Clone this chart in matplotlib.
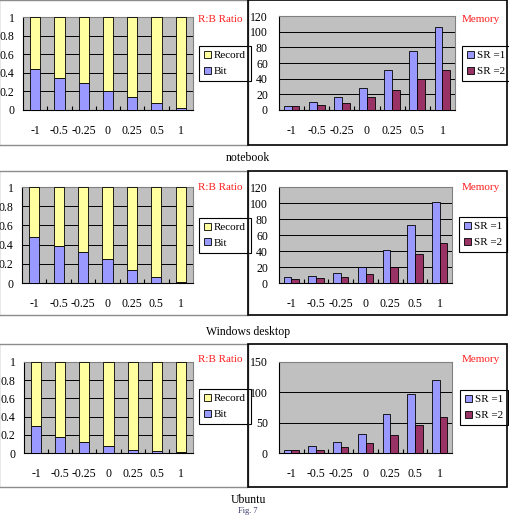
import matplotlib
matplotlib.use("Agg")
import matplotlib.pyplot as plt
from matplotlib.patches import Rectangle
import numpy as np

plt.rcParams['font.family'] = ['Liberation Serif', 'DejaVu Serif']

categories = ["-1", "-0.5", "-0.25", "0", "0.25", "0.5", "1"]

# R:B ratio – Bit share (Record = 1 - Bit)
bit_notebook = [0.436, 0.346, 0.286, 0.207, 0.136, 0.075, 0.02]
bit_windows = [0.477, 0.382, 0.323, 0.246, 0.14, 0.06, 0.007]
bit_ubuntu = [0.293, 0.18, 0.117, 0.073, 0.037, 0.026, 0.007]

# Memory
sr1_notebook = [5.5, 10, 16, 28, 51, 75, 105.5]
sr2_notebook = [4.7, 7, 9, 16, 25, 39, 51]
sr1_windows = [7, 9, 12, 20, 41, 73, 101]
sr2_windows = [4.6, 6, 8, 11, 20, 36.5, 49.5]
sr1_ubuntu = [5.5, 11, 18, 32, 64, 98, 121]
sr2_ubuntu = [5, 5.5, 10, 16, 30, 46, 59]

row_labels = ["notebook", "Windows desktop", "Ubuntu"]
mem_ylims = [(120, [0, 20, 40, 60, 80, 100, 120]),
             (120, [0, 20, 40, 60, 80, 100, 120]),
             (150, [0, 50, 100, 150])]

W, H = 510, 515
fig = plt.figure(figsize=(W / 100, H / 100), dpi=100)
fig.patch.set_facecolor('white')

def ax_at(x0, y0, x1, y1):
    return fig.add_axes([x0 / W, 1 - y1 / H, (x1 - x0) / W, (y1 - y0) / H])

def rect(x0, y0, x1, y1, color, lw):
    fig.patches.append(Rectangle((x0 / W, 1 - y1 / H), (x1 - x0) / W, (y1 - y0) / H,
                                 transform=fig.transFigure, fill=False,
                                 edgecolor=color, linewidth=lw, zorder=10))

BG = '#c0c0c0'
BLUE = '#9999ff'
YEL = '#ffffa0'
PLUM = '#993366'
FS = 8.5
LFS = 8

def style(ax, ylim, yticks, ylabels, ypad):
    ax.set_facecolor(BG)
    ax.set_ylim(0, ylim)
    ax.set_yticks(yticks)
    ax.set_yticklabels(ylabels, fontsize=FS)
    ax.set_xlim(-0.5, 6.5)
    ax.set_xticks(range(7))
    ax.set_xticklabels(categories, fontsize=FS)
    ax.tick_params(axis='x', which='major', length=0, pad=11)
    ax.tick_params(axis='y', which='major', length=0, pad=ypad)
    ax.set_xticks(np.arange(0.5, 6.5, 1), minor=True)
    ax.tick_params(axis='x', which='minor', direction='in', length=3, width=0.8)
    ax.yaxis.grid(True, color='black', linewidth=0.7)
    ax.set_axisbelow(True)
    for s in ['top', 'right']:
        ax.spines[s].set_color('#808080')
    for s in ['left', 'bottom']:
        ax.spines[s].set_color('black')
    for s in ax.spines.values():
        s.set_linewidth(0.8)

def legend(handles, labels, box):
    lx0, ly0, lx1, ly1 = box
    leg = fig.legend(handles, labels, loc='center left',
                     bbox_to_anchor=(lx0 / W, 1 - (ly0 + ly1) / 2 / H),
                     fontsize=LFS, frameon=True, fancybox=False,
                     edgecolor='black', framealpha=1, borderpad=0.45, handlelength=0.6,
                     handleheight=0.6, handletextpad=0.3, labelspacing=0.55, borderaxespad=0)
    leg.get_frame().set_linewidth(0.8)
    return leg

left_boxes = [(23, 17, 193, 110), (22, 187, 193, 283), (24, 362, 193, 453)]
right_boxes = [(279, 16, 455, 110), (279, 187, 452, 283), (279, 362, 452, 453)]
left_leg = [(199, 47, 245, 80), (199, 218, 245, 252), (199, 390, 246, 423)]
right_leg = [(462, 47, 503, 80), (459, 217, 500, 252), (460, 392, 501, 423)]
title_y = [20, 188, 359]
outer = [(0, 145), (171, 315), (344, 487)]
label_y = [158, 332, 500]

bits = [bit_notebook, bit_windows, bit_ubuntu]
sr1s = [sr1_notebook, sr1_windows, sr1_ubuntu]
sr2s = [sr2_notebook, sr2_windows, sr2_ubuntu]

x = np.arange(len(categories))
for r in range(3):
    # outer boxes
    t, b = outer[r]
    rect(-1, t, 248, b, '#8c8c8c', 1.0)
    rect(248, t, 507, b, 'black', 1.2)

    # Ratio chart
    ax = ax_at(*left_boxes[r])
    bit = np.array(bits[r])
    rec = 1 - bit
    hb = ax.bar(x, bit, width=0.42, color=BLUE, edgecolor='black', linewidth=0.6, zorder=3)
    hr = ax.bar(x, rec, bottom=bit, width=0.42, color=YEL, edgecolor='black', linewidth=0.6, zorder=3)
    style(ax, 1, [0, 0.2, 0.4, 0.6, 0.8, 1], ['0', '0.2', '0.4', '0.6', '0.8', '1'], 6)
    legend([hr, hb], ['Record', 'Bit'], left_leg[r])
    fig.text(220 / W, 1 - title_y[r] / H, 'R:B Ratio', color='#ff2020', fontsize=LFS,
             ha='center', va='center')

    # Memory chart
    ax2 = ax_at(*right_boxes[r])
    ylim, yt = mem_ylims[r]
    h1 = ax2.bar(x - 0.155, sr1s[r], width=0.31, color=BLUE, edgecolor='black', linewidth=0.6, zorder=3)
    h2 = ax2.bar(x + 0.155, sr2s[r], width=0.31, color=PLUM, edgecolor='black', linewidth=0.6, zorder=3)
    style(ax2, ylim, yt, [str(v) for v in yt], 8)
    legend([h1, h2], ['SR =1', 'SR =2'], right_leg[r])
    fig.text(481 / W, 1 - title_y[r] / H, 'Memory', color='#ff2020', fontsize=LFS,
             ha='center', va='center')

    fig.text(248 / W, 1 - label_y[r] / H, row_labels[r], fontsize=FS, ha='center', va='center')

fig.text(248 / W, 1 - 511 / H, 'Fig. 7', fontsize=6, ha='center', va='center', color='#333366')

fig.savefig('out.png', dpi=100)
